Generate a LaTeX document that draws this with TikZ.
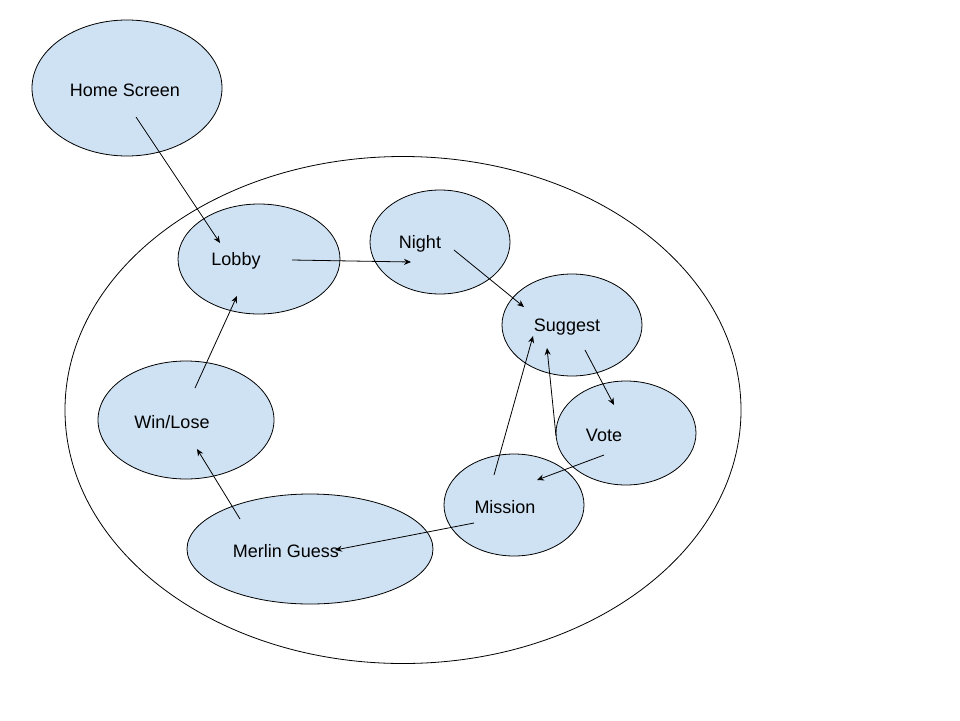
\documentclass[tikz,border=0pt]{standalone}
\usepackage{fontspec}
\setmainfont{Liberation Sans}
\usetikzlibrary{shapes.geometric, arrows.meta, calc}
\definecolor{stateblue}{HTML}{CFE2F3}
\tikzset{%
  state/.style={draw, ellipse, fill=stateblue, inner sep=0pt, line width=0.8pt},
  lbl/.style={font=\fontsize{18}{22}\selectfont, inner sep=0pt, yshift=-2pt},
  move/.style={-{Stealth[length=7pt,width=6pt]}, line width=0.8pt}
}
\begin{document}
\begin{tikzpicture}[x=1pt, y=-1pt]
  \useasboundingbox (0,0) rectangle (960,720);
  \node[draw, ellipse, minimum width=676pt, minimum height=507pt, line width=0.8pt] (game) at (403,410) {};
  \node[state, minimum width=190pt, minimum height=136pt] (home) at (127,88) {};
  \node[state, minimum width=162pt, minimum height=110pt] (lobby) at (259,259) {};
  \node[state, minimum width=140pt, minimum height=104pt] (night) at (440,242) {};
  \node[state, minimum width=140pt, minimum height=102pt] (suggest) at (572,325) {};
  \node[state, minimum width=140pt, minimum height=104pt] (vote) at (626,433) {};
  \node[state, minimum width=140pt, minimum height=102pt] (mission) at (514,505) {};
  \node[state, minimum width=246pt, minimum height=110pt] (merlin) at (310,549) {};
  \node[state, minimum width=176pt, minimum height=118pt] (winlose) at (186,420) {};
  % labels
  \node[lbl] (homeText) at ([xshift=-2pt]home.center) {Home Screen};
  \node[lbl] (lobbyText) at ([xshift=-23pt]lobby.center) {Lobby};
  \node[lbl] (nightText) at ([xshift=-20pt]night.center) {Night};
  \node[lbl] (suggestText) at ([xshift=-5pt]suggest.center) {Suggest};
  \node[lbl] (voteText) at ([xshift=-22pt]vote.center) {Vote};
  \node[lbl] (missionText) at ([xshift=-9pt]mission.center) {Mission};
  \node[lbl] (merlinText) at ([xshift=-24pt]merlin.center) {Merlin Guess};
  \node[lbl] (winloseText) at ([xshift=-14pt]winlose.center) {Win/Lose};
  % moves
  \draw[move] ([shift={(9,29)}]home.center) -- ([shift={(-39,-16)}]lobby.center);
  \draw[move] ([shift={(33,1)}]lobby.center) -- ([shift={(-29,20)}]night.center);
  \draw[move] ([shift={(14,8)}]night.center) -- ([shift={(-48,-18)}]suggest.center);
  \draw[move] ([shift={(13,25)}]suggest.center) -- ([shift={(-12,-28)}]vote.center);
  \draw[move] ([shift={(-70,3)}]vote.center) -- ([shift={(-25,23)}]suggest.center);
  \draw[move] ([shift={(-22,22)}]vote.center) -- ([shift={(23,-25)}]mission.center);
  \draw[move] ([shift={(-20,-30)}]mission.center) -- ([shift={(-39,11)}]suggest.center);
  \draw[move] ([shift={(-40,18)}]mission.center) -- ([shift={(25,1)}]merlin.center);
  \draw[move] ([shift={(-70,-30)}]merlin.center) -- ([shift={(11,29)}]winlose.center);
  \draw[move] ([shift={(9,-32)}]winlose.center) -- ([shift={(-22,37)}]lobby.center);
\end{tikzpicture}
\end{document}
